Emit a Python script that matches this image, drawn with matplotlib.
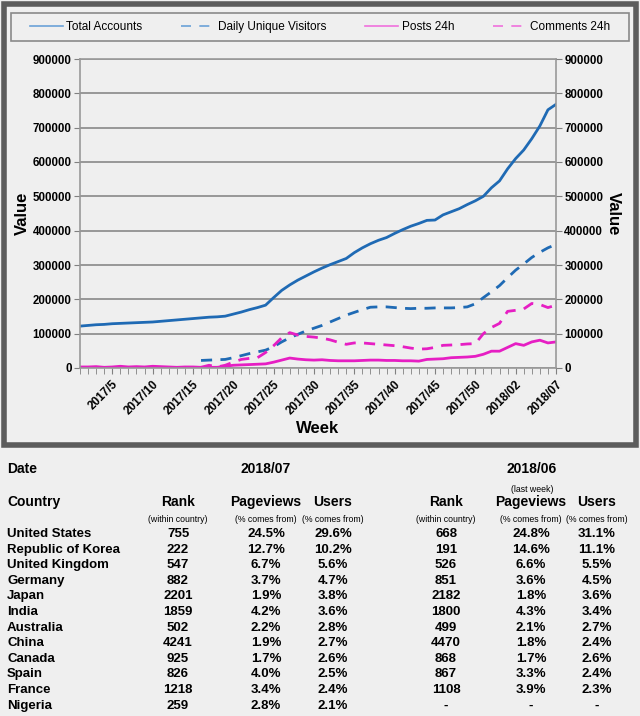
import matplotlib
matplotlib.use('Agg')
import matplotlib.pyplot as plt
from matplotlib.patches import Rectangle
import numpy as np

W, H = 640, 716

# week labels 2017/1 .. 2017/53, 2018/01 .. 2018/07
weeks = ['2017/%d' % i for i in range(1, 54)] + ['2018/%02d' % i for i in range(1, 8)]

total_accounts = [122, 124, 126, 127, 129, 130, 131, 132, 133, 134,
                  136, 138, 140, 142, 144, 146, 148, 149, 151, 157,
                  163, 170, 176, 183, 205, 226, 242, 256, 268, 280,
                  291, 301, 310, 319, 336, 350, 362, 372, 380, 392,
                  403, 413, 421, 430, 431, 446, 455, 464, 476, 487,
                  500, 525, 545, 580, 610, 635, 668, 705, 752, 768]
nan = np.nan
daily_visitors = [nan] * 15 + [22, 23, 24, 25, 30, 36, 42, 47, 52, 62,
                               76, 88, 98, 108, 116, 124, 134, 144, 154, 162,
                               170, 177, 178, 178, 176, 174, 173, 174, 174, 175,
                               175, 175, 176, 178, 187, 205, 222, 240, 263, 285,
                               303, 322, 337, 350, 360]
posts_24h = [3, 3, 4, 2, 3, 5, 3, 4, 3, 5, 4, 3, 2, 3, 3, 2, 2, 2, 5, 8,
             9, 10, 11, 12, 17, 23, 29, 26, 24, 23, 24, 22, 21, 21, 21, 22,
             23, 23, 22, 22, 21, 21, 20, 25, 26, 27, 30, 31, 32, 34, 40, 49,
             49, 60, 71, 66, 76, 81, 73, 76]
comments_24h = [nan] * 15 + [2, 8, 3, 8, 17, 25, 28, 30, 45, 65,
                             88, 103, 96, 92, 90, 87, 82, 75, 69, 73,
                             73, 71, 69, 67, 65, 62, 58, 55, 56, 60,
                             66, 67, 68, 70, 71, 100, 118, 130, 165, 168,
                             172, 188, 185, 176, 183]

# table data
countries = ['United States', 'Republic of Korea', 'United Kingdom', 'Germany', 'Japan',
             'India', 'Australia', 'China', 'Canada', 'Spain', 'France', 'Nigeria']
rank_now = ['755', '222', '547', '882', '2201', '1859', '502', '4241', '925', '826', '1218', '259']
pv_now = ['24.5%', '12.7%', '6.7%', '3.7%', '1.9%', '4.2%', '2.2%', '1.9%', '1.7%', '4.0%', '3.4%', '2.8%']
users_now = ['29.6%', '10.2%', '5.6%', '4.7%', '3.8%', '3.6%', '2.8%', '2.7%', '2.6%', '2.5%', '2.4%', '2.1%']
rank_prev = ['668', '191', '526', '851', '2182', '1800', '499', '4470', '868', '867', '1108', '-']
pv_prev = ['24.8%', '14.6%', '6.6%', '3.6%', '1.8%', '4.3%', '2.1%', '1.8%', '1.7%', '3.3%', '3.9%', '-']
users_prev = ['31.1%', '11.1%', '5.5%', '4.5%', '3.6%', '3.4%', '2.7%', '2.4%', '2.6%', '2.4%', '2.3%', '-']

blue = '#1f6ab4'
pink = '#e61ec3'
bg = '#efefef'
plt.rcParams['font.family'] = ['Liberation Sans', 'DejaVu Sans']


def fx(x):
    return x / W


def fy(y):
    return 1 - y / H


fig = plt.figure(figsize=(W / 100, H / 100), dpi=100, facecolor=bg)

# outer frame of the chart
fig.patches.append(Rectangle((fx(4), fy(445)), fx(632), 441 / H, transform=fig.transFigure,
                             fill=False, edgecolor='#5c5c5c', linewidth=4))

ax = fig.add_axes([fx(80), fy(368), fx(476), 309 / H])
ax.set_facecolor(bg)
x = np.arange(len(weeks))
k = 1000
dash = (0, (4, 3))
l1, = ax.plot(x, np.array(total_accounts) * k, color=blue, lw=2, label='Total Accounts')
l2, = ax.plot(x, np.array(daily_visitors) * k, color=blue, lw=2, ls=dash, label='Daily Unique Visitors')
l3, = ax.plot(x, np.array(posts_24h) * k, color=pink, lw=2, label='Posts 24h')
l4, = ax.plot(x, np.array(comments_24h) * k, color=pink, lw=2, ls=dash, label='Comments 24h')

ax.set_xlim(0, len(weeks) - 1)
ax.set_ylim(0, 900000)
yt = np.arange(0, 900001, 100000)
ax.set_yticks(yt)
ax.set_yticklabels([str(v) for v in yt], fontsize=8.3, fontweight='bold')
major = list(range(4, len(weeks), 5))
ax.set_xticks(major)
ax.set_xticklabels([weeks[i] for i in major], rotation=45, ha='right', rotation_mode='anchor',
                   fontsize=8.5, fontweight='bold')
ax.set_xticks(x, minor=True)
ax.tick_params(axis='x', which='both', direction='out', length=4, color='#808080')
ax.tick_params(axis='y', length=4, color='#808080', pad=2)
ax.yaxis.grid(True, color='#888888', lw=1.2)
ax.set_axisbelow(True)
for s in ax.spines.values():
    s.set_color('#999999')
    s.set_linewidth(1.2)
ax.set_ylabel('Value', fontsize=12, fontweight='bold', labelpad=2)
ax.set_xlabel('Week', fontsize=12, fontweight='bold', labelpad=3)

ax2 = ax.twinx()
ax2.set_ylim(0, 900000)
ax2.set_yticks(yt)
ax2.set_yticklabels([str(v) for v in yt], fontsize=8.3, fontweight='bold')
ax2.tick_params(axis='y', length=4, color='#808080', pad=2)
for s in ax2.spines.values():
    s.set_visible(False)
ax2.set_ylabel('Value', fontsize=12, fontweight='bold', rotation=270, labelpad=13)

leg = fig.legend(handles=[l1, l2, l3, l4], loc='center',
                 bbox_to_anchor=(fx(11), fy(41), fx(618), 28 / H), fontsize=8.5,
                 ncol=4, frameon=False, handlelength=2.8, handletextpad=0.3,
                 borderaxespad=0, columnspacing=3.3)
for h, c in zip(leg.legend_handles, ['#6aa2d8', '#6aa2d8', '#f070dc', '#f070dc']):
    h.set_color(c)
    h.set_linewidth(1.2)
for h in leg.legend_handles[1::2]:
    h.set_linestyle((0, (6, 5)))
fig.patches.append(Rectangle((fx(11), fy(41)), fx(618), 28 / H, transform=fig.transFigure,
                             fill=False, edgecolor='#8a8a8a', linewidth=1.2))

# table below the chart
big = dict(fontsize=10, fontweight='bold', va='center')
small = dict(fontsize=6.3, va='center')
cols = [178, 266, 333, 446, 531, 597]

fig.text(fx(7), fy(469), 'Date', ha='left', **big)
fig.text(fx(266), fy(469), '2018/07', ha='center', **big)
fig.text(fx(532), fy(469), '2018/06', ha='center', **big)
fig.text(fx(532), fy(489), '(last week)', ha='center', **small)
fig.text(fx(7), fy(502), 'Country', ha='left', **big)
for c, t in zip(cols, ['Rank', 'Pageviews', 'Users'] * 2):
    fig.text(fx(c), fy(502), t, ha='center', **big)
for c, t in zip(cols, ['(within country)', '(% comes from)', '(% comes from)'] * 2):
    fig.text(fx(c), fy(520), t, ha='center', **small)

row = dict(fontsize=9.5, fontweight='bold', va='center')
for i, name in enumerate(countries):
    y = 534 + i * 15.6
    fig.text(fx(7), fy(y), name, ha='left', **row)
    vals = [rank_now[i], pv_now[i], users_now[i], rank_prev[i], pv_prev[i], users_prev[i]]
    for c, v in zip(cols, vals):
        fig.text(fx(c), fy(y), v, ha='center', **row)

fig.savefig('out.png', dpi=100, facecolor=bg)
